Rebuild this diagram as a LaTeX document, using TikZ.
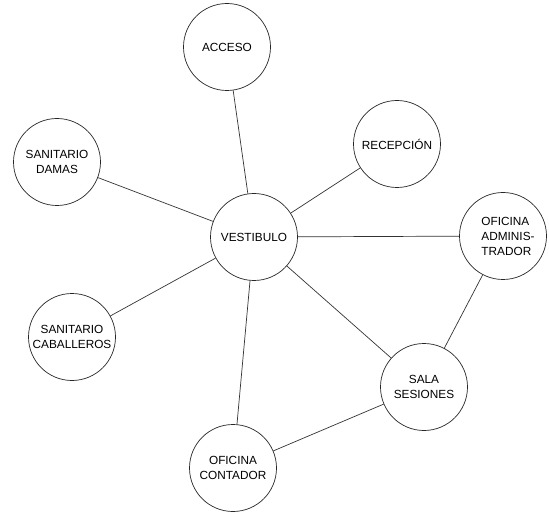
\documentclass[tikz,border=0pt]{standalone}
\usepackage{fontspec}
\setmainfont{Liberation Sans}
\begin{document}
\begin{tikzpicture}[x=1pt,y=-1pt,
  room/.style={circle,draw=black!85,line width=0.7pt,minimum size=87pt,inner sep=0pt,align=center,font=\fontsize{11.8}{15}\selectfont,fill=white},
  link/.style={draw=black!80,line width=0.7pt}]
\useasboundingbox (0,0) rectangle (549,513);
\node[room] (acc) at (227,47) {ACCESO};
\node[room] (dam) at (57,162) {SANITARIO\\DAMAS};
\node[room] (ves) at (254,237) {VESTIBULO};
\node[room] (rec) at (397,144) {RECEPCIÓN};
\node[room] (adm) at (503,236) {};
\node[align=left,font=\fontsize{11.8}{15}\selectfont,inner sep=0pt] (admt) at (508,236) {OFICINA\\ADMINIS-\\TRADOR};
\node[room] (cab) at (72,337) {SANITARIO\\CABALLEROS};
\node[room] (sal) at (424,387) {SALA\\SESIONES};
\node[room] (con) at (233,468) {OFICINA\\CONTADOR};
\draw[link] (ves) -- (acc);
\draw[link] (ves) -- (dam);
\draw[link] (ves) -- (rec);
\draw[link] (ves) -- (adm);
\draw[link] (ves) -- (cab);
\draw[link] (ves) -- (sal);
\draw[link] (ves) -- (con);
\draw[link] (adm) -- (sal);
\draw[link] (sal) -- (con);
\end{tikzpicture}
\end{document}
